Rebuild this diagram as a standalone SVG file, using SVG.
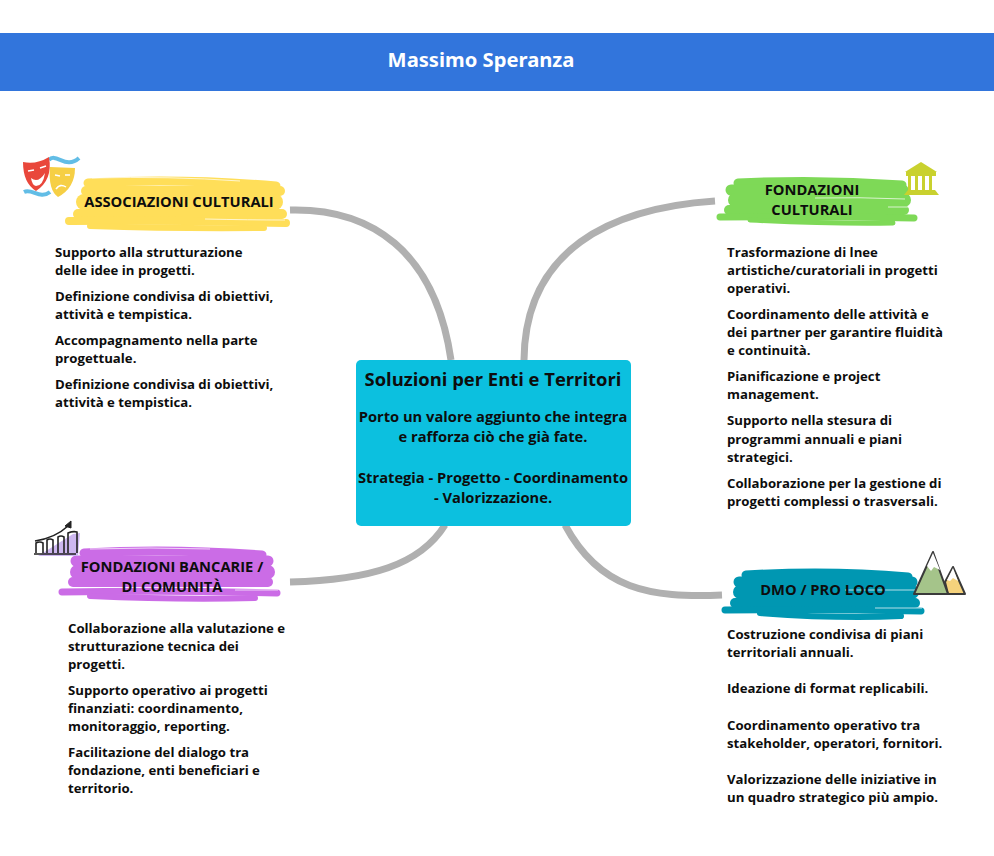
<svg xmlns="http://www.w3.org/2000/svg" width="994" height="856" viewBox="0 0 994 856">
<style>
text{font-family:"Open Sans","Noto Sans","Liberation Sans",sans-serif;font-weight:700;fill:#0d0d0d}
.b{font-size:13.2px}
.h{font-size:14.7px;text-anchor:middle}
.c{font-size:14.7px;text-anchor:middle}
.t{font-size:18.4px;text-anchor:middle}
.l{fill:none;stroke:#b0b0b0;stroke-width:7}
.s{fill:none;stroke-linecap:round}
.w{fill:none;stroke:#fff;stroke-width:1;opacity:.7}
</style>
<rect width="994" height="856" fill="#fff"/>
<g id="header"><rect y="33" width="994" height="58" fill="#3275dc"/>
<text x="481" y="67" style="font-family:'Noto Sans',sans-serif;font-size:20.2px;fill:#fff;text-anchor:middle;font-weight:700">Massimo Speranza</text></g>
<g id="connectors">
<path class="l" d="M290 210C370 208 435 250 451 360"/>
<path class="l" d="M715 201C610 208 525 250 524 360"/>
<path class="l" d="M290 582C370 580 420 565 445 525"/>
<path class="l" d="M722 595C650 598 600 590 565 525"/>
</g>
<g id="center"><rect x="356" y="360" width="275" height="166" rx="5" fill="#0cc0df"/>
<text class="t" x="493" y="386">Soluzioni per Enti e Territori</text>
<text class="c" x="493" y="422">Porto un valore aggiunto che integra</text>
<text class="c" x="493" y="442">e rafforza ciò che già fate.</text>
<text class="c" x="493" y="483">Strategia - Progetto - Coordinamento</text>
<text class="c" x="493" y="503">- Valorizzazione.</text></g>
<g id="associazioni">
<g class="s" stroke="#ffde59">
<path stroke-width="9" d="M88 183Q180 178 276 186"/>
<path stroke-width="10" d="M86 191H280"/>
<path stroke-width="16" d="M84 202H275"/>
<path stroke-width="10" d="M78 214H282"/>
<path stroke-width="8" d="M69 221Q180 220 286 223"/>
<path stroke-width="6" d="M90 226Q180 229 264 228"/>
</g>
<path class="w" d="M92 178Q170 176 240 181M205 219Q250 220 285 220"/>
<text class="h" x="179" y="207">ASSOCIAZIONI CULTURALI</text>
<path d="M49 160C56 152 66 170 79 158" fill="none" stroke="#62bde6" stroke-width="4"/>
<path d="M24 192C32 188 40 200 50 192" fill="none" stroke="#62bde6" stroke-width="4"/>
<path d="M50 167L75 168Q75 188 58 197Q48 190 50 167Z" fill="#f6cf45"/>
<path d="M23 162Q36 165 49 157Q53 180 36 191Q23 183 23 162Z" fill="#e9473b"/>
<path d="M31 178Q38 184 45 173Q43 186 36 186Q32 185 31 178Z" fill="#fff"/>
<path d="M28 171L34 170M40 168L46 166M55 175L60 176M65 175L70 175M56 189Q60 183 66 187" fill="none" stroke="#fff" stroke-width="1.5"/>
</g>
<g id="fondazioni-culturali">
<g class="s" stroke="#7ed957">
<path stroke-width="9" d="M738 183Q820 179 902 185"/>
<path stroke-width="11" d="M731 190H903"/>
<path stroke-width="14" d="M735 200H904"/>
<path stroke-width="10" d="M729 210H904"/>
<path stroke-width="7" d="M720 217Q820 216 914 218"/>
<path stroke-width="5" d="M750 220Q830 224 893 223"/>
</g>
<path class="w" d="M815 198Q860 197 905 199M888 207H916"/>
<text class="h" x="812" y="195">FONDAZIONI</text><text class="h" x="812" y="215">CULTURALI</text>
<g fill="#c9d12e"><path d="M921 162L937 172H905Z"/><rect x="906" y="172" width="30" height="4"/><path d="M908 176h3v15h-3zM915 176h3v15h-3zM922 176h3v15h-3zM929 176h3v15h-3z"/><path d="M908 190H935L939 195H904Z"/></g>
</g>
<g id="fondazioni-bancarie">
<g class="s" stroke="#cb6ce6">
<path stroke-width="9" d="M84 553Q170 548 262 555"/>
<path stroke-width="11" d="M76 561H268"/>
<path stroke-width="14" d="M77 572H268"/>
<path stroke-width="10" d="M73 582H268"/>
<path stroke-width="7" d="M62 592Q170 590 277 593"/>
<path stroke-width="6" d="M90 596Q180 600 255 598"/>
</g>
<path class="w" d="M90 549Q150 547 210 549M235 590H278"/>
<text class="h" x="172" y="572">FONDAZIONI BANCARIE /</text><text class="h" x="172" y="592">DI COMUNITÀ</text>
<path d="M38 556H78L80 533 73 534Z" fill="#cdb7f0"/>
<path d="M34 554H76M36 553V543Q40 541 43 543V553M47 553V540Q50 538 53 540V553M58 553V537Q61 535 64 537V553M68 553V533Q73 531 77 532V553M35 541Q55 538 68 526" fill="none" stroke="#222" stroke-width="1.6"/>
<path d="M65 526L71 521 71 528Z" fill="#222" stroke="#222"/>
</g>
<g id="dmo">
<g class="s" stroke="#0097b2">
<path stroke-width="9" d="M746 575Q830 570 908 577"/>
<path stroke-width="11" d="M739 582H912"/>
<path stroke-width="14" d="M740 592H912"/>
<path stroke-width="10" d="M735 603H915"/>
<path stroke-width="7" d="M725 610Q820 609 921 611"/>
<path stroke-width="6" d="M760 613Q840 619 901 616"/>
</g>
<path class="w" d="M845 590H915M875 608H922"/>
<text class="h" x="823" y="595">DMO / PRO LOCO</text>
<path d="M945 582L953 567 965 594H948Z" fill="#f5d27c" stroke="#3a3a3a" stroke-width="2" stroke-linejoin="round"/>
<path d="M947 580L953 568 958 581 953 578 950 581Z" fill="#fff"/>
<path d="M914 594L933 552 948 594Z" fill="#a5c48a" stroke="#3a3a3a" stroke-width="2" stroke-linejoin="round"/>
<path d="M927 566L933 553 940 570 934 567 931 571Z" fill="#fff"/>
</g>
<g id="testo-associazioni">
<text class="b" x="55" y="257">Supporto alla strutturazione</text><text class="b" x="55" y="275">delle idee in progetti.</text>
<text class="b" x="55" y="301">Definizione condivisa di obiettivi,</text><text class="b" x="55" y="319">attività e tempistica.</text>
<text class="b" x="55" y="345">Accompagnamento nella parte</text><text class="b" x="55" y="363">progettuale.</text>
<text class="b" x="55" y="389">Definizione condivisa di obiettivi,</text><text class="b" x="55" y="407">attività e tempistica.</text>
</g>
<g id="testo-fondazioni-culturali">
<text class="b" x="727" y="257">Trasformazione di lnee</text><text class="b" x="727" y="275">artistiche/curatoriali in progetti</text><text class="b" x="727" y="293">operativi.</text>
<text class="b" x="727" y="319">Coordinamento delle attività e</text><text class="b" x="727" y="337">dei partner per garantire fluidità</text><text class="b" x="727" y="355">e continuità.</text>
<text class="b" x="727" y="381">Pianificazione e project</text><text class="b" x="727" y="399">management.</text>
<text class="b" x="727" y="425">Supporto nella stesura di</text><text class="b" x="727" y="444">programmi annuali e piani</text><text class="b" x="727" y="462">strategici.</text>
<text class="b" x="727" y="488">Collaborazione per la gestione di</text><text class="b" x="727" y="506">progetti complessi o trasversali.</text>
</g>
<g id="testo-fondazioni-bancarie">
<text class="b" x="68" y="633">Collaborazione alla valutazione e</text><text class="b" x="68" y="651">strutturazione tecnica dei</text><text class="b" x="68" y="669">progetti.</text>
<text class="b" x="68" y="695">Supporto operativo ai progetti</text><text class="b" x="68" y="713">finanziati: coordinamento,</text><text class="b" x="68" y="731">monitoraggio, reporting.</text>
<text class="b" x="68" y="757">Facilitazione del dialogo tra</text><text class="b" x="68" y="775">fondazione, enti beneficiari e</text><text class="b" x="68" y="793">territorio.</text>
</g>
<g id="testo-dmo">
<text class="b" x="727" y="639">Costruzione condivisa di piani</text><text class="b" x="727" y="657">territoriali annuali.</text>
<text class="b" x="727" y="693">Ideazione di format replicabili.</text>
<text class="b" x="727" y="730">Coordinamento operativo tra</text><text class="b" x="727" y="748">stakeholder, operatori, fornitori.</text>
<text class="b" x="727" y="784">Valorizzazione delle iniziative in</text><text class="b" x="727" y="802">un quadro strategico più ampio.</text>
</g>
</svg>
